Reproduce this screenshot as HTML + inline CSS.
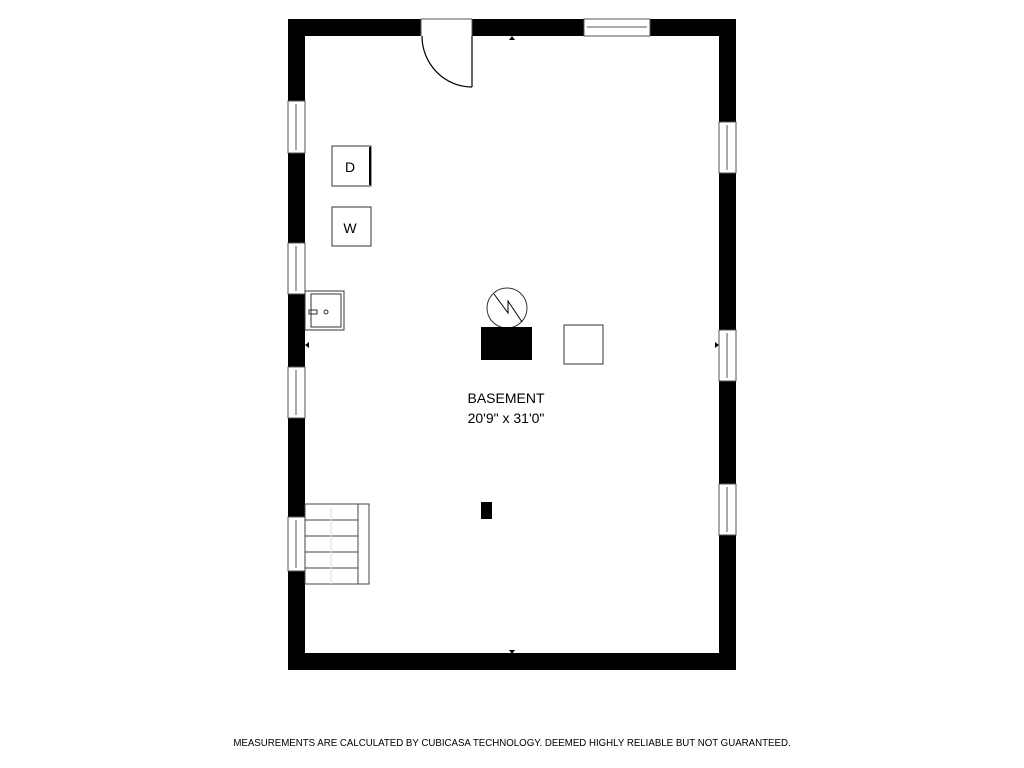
<!DOCTYPE html>
<html><head><style>
body{margin:0;width:1024px;height:768px;background:#fff;overflow:hidden}
svg{position:absolute;left:0;top:0}
</style></head><body>
<svg width="1024" height="768" viewBox="0 0 1024 768" font-family="Liberation Sans, sans-serif">
<rect x="296.5" y="27.5" width="431" height="634" fill="none" stroke="#000" stroke-width="17"/>
<g fill="#fff" stroke="#555" stroke-width="1">
<rect x="421" y="19" width="51" height="17" stroke="none"/>
<line x1="421" y1="19" x2="472" y2="19"/><line x1="421" y1="19" x2="421" y2="36"/><line x1="472" y1="19" x2="472" y2="36"/>
<rect x="584" y="19" width="66" height="17"/><line x1="587" y1="27" x2="647" y2="27"/>
<rect x="288" y="101" width="17" height="52"/><line x1="296" y1="104" x2="296" y2="150"/>
<rect x="288" y="243" width="17" height="51"/><line x1="296" y1="246" x2="296" y2="291"/>
<rect x="288" y="367" width="17" height="51"/><line x1="296" y1="370" x2="296" y2="415"/>
<rect x="288" y="517" width="17" height="54"/><line x1="296" y1="520" x2="296" y2="568"/>
<rect x="719" y="122" width="17" height="51"/><line x1="727" y1="125" x2="727" y2="170"/>
<rect x="719" y="330" width="17" height="51"/><line x1="727" y1="333" x2="727" y2="378"/>
<rect x="719" y="484" width="17" height="51"/><line x1="727" y1="487" x2="727" y2="532"/>
</g>
<g stroke="#000" fill="none" stroke-width="1.2">
<path d="M422 36 A50 51 0 0 0 472 87"/><line x1="472" y1="36" x2="472" y2="87"/>
</g>
<g fill="#fff" stroke="#333" stroke-width="1">
<rect x="332" y="146" width="39" height="40"/><rect x="332" y="207" width="39" height="39"/>
<rect x="305" y="291" width="39" height="39"/><rect x="311" y="294" width="30" height="33"/>
<rect x="564" y="325" width="39" height="39"/>
<circle cx="507" cy="308" r="20"/>
</g>
<text x="350" y="172" font-size="14" text-anchor="middle">D</text>
<text x="350" y="233" font-size="14" text-anchor="middle">W</text>
<line x1="370" y1="147" x2="370" y2="185" stroke="#000" stroke-width="2"/>
<rect x="309" y="310" width="8" height="4" fill="none" stroke="#333"/>
<circle cx="326" cy="312" r="2" fill="none" stroke="#333"/>
<polyline points="494,294 508,313 508,301 522,322" fill="none" stroke="#000"/>
<rect x="481" y="327" width="51" height="33" fill="#000"/>
<rect x="481" y="502" width="11" height="17" fill="#000"/>
<g stroke="#444" fill="none">
<rect x="305" y="504" width="64" height="80"/>
<line x1="358" y1="504" x2="358" y2="584"/>
<line x1="305" y1="520" x2="358" y2="520"/><line x1="305" y1="536" x2="358" y2="536"/>
<line x1="305" y1="552" x2="358" y2="552"/><line x1="305" y1="568" x2="358" y2="568"/>
<line x1="331" y1="508" x2="331" y2="584" stroke="#ddd"/>
</g>
<g fill="#000"><path d="M509 40 L515 40 L512 36Z"/><path d="M509 650 L515 650 L512 654Z"/>
<path d="M309 342 L309 348 L305 345Z"/><path d="M715 342 L715 348 L719 345Z"/></g>
<text x="506" y="403" font-size="14" text-anchor="middle">BASEMENT</text>
<text x="506" y="423" font-size="14" text-anchor="middle">20'9" x 31'0"</text>
<text x="512" y="746" font-size="9.7" text-anchor="middle">MEASUREMENTS ARE CALCULATED BY CUBICASA TECHNOLOGY. DEEMED HIGHLY RELIABLE BUT NOT GUARANTEED.</text>
</svg>
</body></html>
